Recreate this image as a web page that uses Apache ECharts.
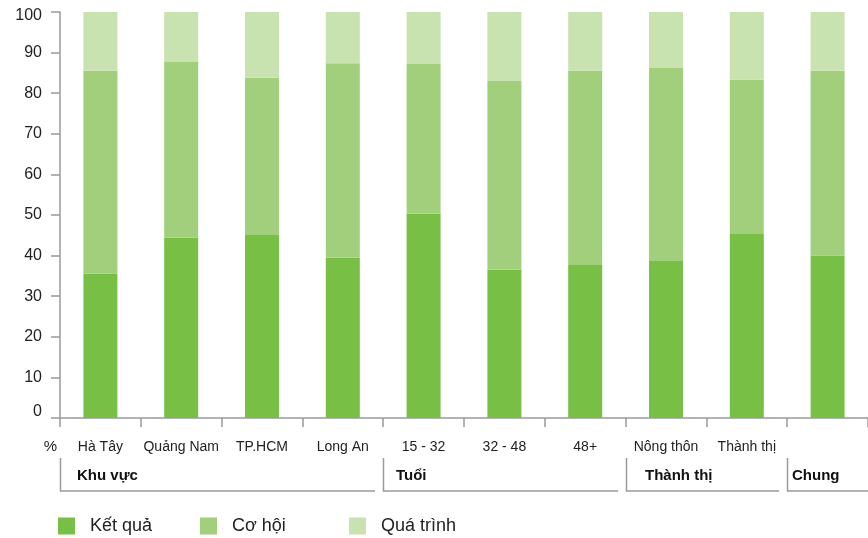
<!DOCTYPE html>
<html>
<head>
<meta charset="utf-8">
<script src="https://cdn.jsdelivr.net/npm/echarts@6/dist/echarts.min.js"></script>
<style>
  html, body { margin: 0; padding: 0; background: #fff; }
  #chart { width: 868px; height: 538px; }
</style>
</head>
<body>
<div id="chart"></div>
<script>
// Categories along the x axis
const categories = ['Hà Tây', 'Quảng Nam', 'TP.HCM', 'Long An', '15 - 32', '32 - 48', '48+', 'Nông thôn', 'Thành thị', ''];

// Stacked shares (%) per category
const ketQua   = [35.6, 44.4, 45.1, 39.5, 50.3, 36.5, 37.7, 38.7, 45.3, 40.0];
const coHoi    = [49.9, 43.3, 38.7, 47.9, 36.9, 46.5, 47.8, 47.5, 38.0, 45.5];
const quaTrinh = [14.5, 12.3, 16.2, 12.6, 12.8, 17.0, 14.5, 13.8, 16.7, 14.5];

// Category groups shown under the axis labels
const groupNames = ['Khu vực', 'Tuổi', 'Thành thị', 'Chung'];
const groupFirst = [0, 4, 7, 9];
const groupLast  = [3, 6, 8, 9];

// Y axis ticks
const yMin = 0, yMax = 100, yStep = 10;

const seriesNames = ['Kết quả', 'Cơ hội', 'Quá trình'];
const colors = ['#77BF45', '#A1CF7B', '#C8E2B0'];
const FONT = '"Liberation Sans", Arial, sans-serif';
const AXIS = '#9a9a9a';

const chart = echarts.init(document.getElementById('chart'), null, { renderer: 'canvas' });

function legendAt(i, left) {
  return {
    data: [seriesNames[i]],
    left: left, top: 517, padding: 0,
    itemWidth: 17, itemHeight: 17,
    icon: 'rect', selectedMode: false,
    textStyle: { fontFamily: FONT, fontSize: 18, color: '#222', padding: [0, 0, 0, 10] }
  };
}

const option = {
  animation: false,
  backgroundColor: '#fff',
  color: colors,
  grid: { left: 60, right: 0, top: 12, bottom: 120, containLabel: false },
  legend: [legendAt(0, 58), legendAt(1, 200), legendAt(2, 349)],
  xAxis: {
    type: 'category',
    data: categories,
    boundaryGap: true,
    axisLine: { show: true, lineStyle: { color: AXIS, width: 1.5 } },
    axisTick: { show: true, length: 9, interval: 0, lineStyle: { color: AXIS, width: 1.5 } },
    axisLabel: { interval: 0, margin: 22, fontFamily: FONT, fontSize: 14, color: '#222' }
  },
  yAxis: {
    type: 'value',
    min: yMin, max: yMax, interval: yStep,
    name: '%',
    nameLocation: 'start',
    nameGap: 21,
    nameTextStyle: { fontFamily: FONT, fontSize: 15, color: '#222', align: 'right', padding: [0, 3, 0, 0] },
    axisLine: { show: true, lineStyle: { color: AXIS, width: 1.5 } },
    axisTick: { show: true, length: 9, lineStyle: { color: AXIS, width: 1.5 } },
    splitLine: { show: false },
    axisLabel: {
      margin: 18, fontFamily: FONT, fontSize: 16, color: '#222',
      formatter: function (v) {
        if (v === yMin) return '{lo|' + v + '}';
        if (v === yMax) return '{hi|' + v + '}';
        return String(v);
      },
      rich: {
        lo: { fontFamily: FONT, fontSize: 16, color: '#222', padding: [0, 0, 12, 0] },
        hi: { fontFamily: FONT, fontSize: 16, color: '#222', padding: [8, 0, 0, 0] }
      }
    }
  },
  series: [ketQua, coHoi, quaTrinh].map(function (d, i) {
    return {
      name: seriesNames[i],
      type: 'bar',
      stack: 'total',
      barWidth: 34,
      data: d,
      itemStyle: { color: colors[i] }
    };
  })
};

chart.setOption(option);

// Group brackets and titles below the category labels, placed from the axis scale
(function drawGroups() {
  const c0 = chart.convertToPixel({ xAxisIndex: 0 }, 0);
  const c1 = chart.convertToPixel({ xAxisIndex: 0 }, 1);
  const band = c1 - c0;
  const yTop = 458, yBottom = 491, gap = 8;
  const indent = [17, 13, 19, 5];
  const width = chart.getWidth();
  const elements = [];
  groupNames.forEach(function (name, g) {
    const left = Math.round(chart.convertToPixel({ xAxisIndex: 0 }, groupFirst[g]) - band / 2);
    let right = chart.convertToPixel({ xAxisIndex: 0 }, groupLast[g]) + band / 2;
    right = right >= width - 1 ? width : Math.round(right - gap);
    elements.push({
      type: 'polyline',
      shape: { points: [[left + 0.5, yTop], [left + 0.5, yBottom], [right, yBottom]] },
      style: { stroke: AXIS, lineWidth: 1.5, fill: null },
      silent: true
    });
    elements.push({
      type: 'text',
      x: left + indent[g], y: 476,
      style: {
        text: name, fontFamily: FONT, fontSize: 15, fontWeight: 'bold',
        fill: '#111', align: 'left', verticalAlign: 'middle'
      },
      silent: true
    });
  });
  chart.setOption({ graphic: elements });
})();
</script>
</body>
</html>
